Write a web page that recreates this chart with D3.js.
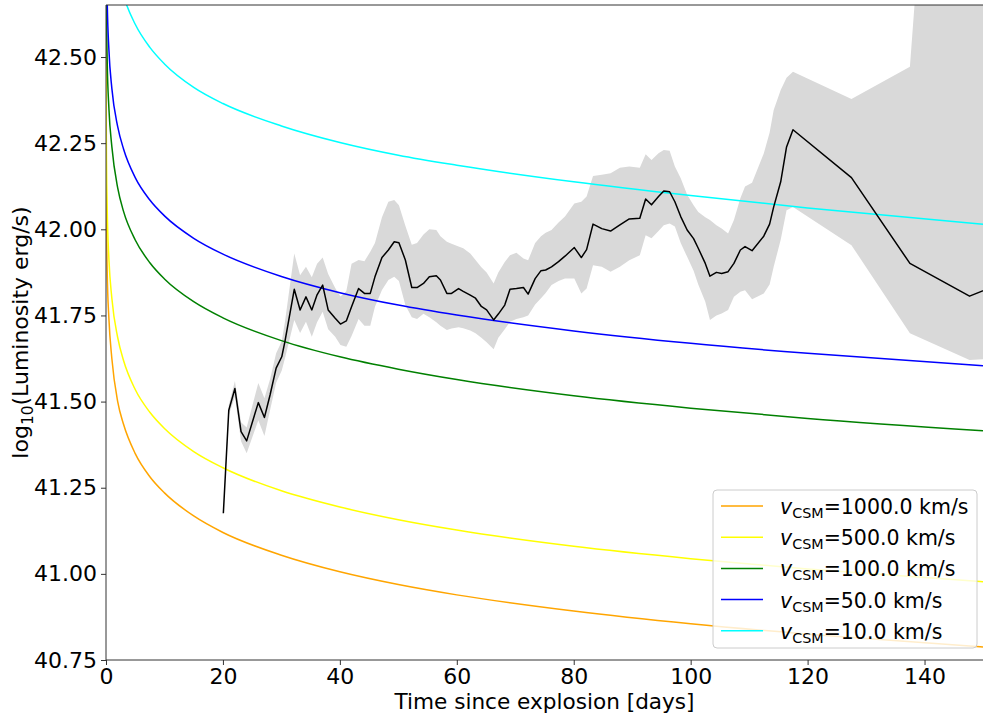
<!DOCTYPE html>
<html>
<head>
<meta charset="utf-8">
<script src="https://cdn.jsdelivr.net/npm/d3@7"></script>
<style>
  html, body { margin: 0; padding: 0; background: #fff; }
  svg { display: block; font-family: "DejaVu Sans", sans-serif; }
</style>
</head>
<body>
<svg id="chart" width="983" height="717"></svg>
<script>
// ---------- data ----------
const modelTime = [0.001, 0.01, 0.05, 0.1, 0.2, 0.5, 1, 2, 3, 5, 7.5, 10, 15, 20, 30, 40, 50, 60, 80, 100, 120, 150];
const lum1000 = [42.755, 42.375, 42.109, 41.995, 41.88, 41.74, 41.625, 41.50, 41.434, 41.349, 41.282, 41.235, 41.168, 41.12, 41.054, 41.006, 40.969, 40.939, 40.892, 40.855, 40.825, 40.788];
const lum500  = [42.934, 42.556, 42.291, 42.177, 42.064, 41.913, 41.80, 41.686, 41.619, 41.535, 41.469, 41.422, 41.355, 41.308, 41.241, 41.194, 41.157, 41.127, 41.08, 41.044, 41.014, 40.977];
const lum100  = [43.356, 42.981, 42.719, 42.606, 42.493, 42.35, 42.24, 42.12, 42.052, 41.969, 41.903, 41.856, 41.79, 41.743, 41.677, 41.63, 41.594, 41.564, 41.517, 41.481, 41.451, 41.415];
const lum50   = [43.52, 43.149, 42.89, 42.779, 42.668, 42.52, 42.409, 42.298, 42.233, 42.15, 42.085, 42.039, 41.974, 41.928, 41.863, 41.816, 41.78, 41.751, 41.705, 41.669, 41.64, 41.604];
const lum10   = [44.03, 43.64, 43.37, 43.25, 43.14, 42.98, 42.86, 42.746, 42.678, 42.595, 42.528, 42.48, 42.412, 42.365, 42.30, 42.252, 42.215, 42.186, 42.138, 42.098, 42.062, 42.015];

const modelLabels = ["1000.0", "500.0", "100.0", "50.0", "10.0"];
const modelColors = ["#ffa500", "#ffff00", "#008000", "#0000ff", "#00ffff"];

const obsTime = [20.07, 21.0, 22.05, 23.1, 24.06, 26.05, 27.1, 28.06, 29.1, 30.06, 30.6, 32.2, 33.2, 34.2, 35.2, 36.1, 37.06, 38.0, 39.2, 40.1, 41.1, 42.0, 43.2, 44.2, 45.2, 46.0, 47.2, 48.3, 49.3, 50.1, 51.2, 52.3, 53.2, 54.3, 55.3, 56.5, 57.2, 58.3, 59.1, 60.3, 61.1, 62.3, 63.2, 64.2, 65.1, 66.3, 67.1, 68.2, 69.1, 70.2, 71.4, 72.2, 73.4, 74.4, 75.2, 76.2, 77.4, 78.5, 80.1, 81.3, 82.2, 83.3, 84.8, 86.3, 87.9, 89.5, 91.3, 92.3, 93.3, 94.5, 95.4, 96.4, 97.3, 98.3, 99.4, 100.5, 101.3, 102.5, 103.3, 104.4, 105.3, 106.4, 107.4, 108.5, 109.3, 110.5, 112.5, 113.5, 114.2, 115.4, 116.4, 117.5, 127.5, 137.5, 147.7, 152.0];
const obsLum = [41.176, 41.475, 41.538, 41.413, 41.386, 41.497, 41.454, 41.519, 41.597, 41.63, 41.674, 41.826, 41.766, 41.804, 41.766, 41.81, 41.838, 41.766, 41.742, 41.725, 41.734, 41.775, 41.828, 41.814, 41.814, 41.862, 41.918, 41.94, 41.964, 41.961, 41.911, 41.831, 41.831, 41.843, 41.862, 41.865, 41.853, 41.814, 41.814, 41.828, 41.82, 41.809, 41.80, 41.776, 41.766, 41.737, 41.754, 41.78, 41.826, 41.828, 41.831, 41.812, 41.857, 41.88, 41.882, 41.891, 41.906, 41.922, 41.947, 41.918, 41.941, 42.015, 42.002, 41.995, 42.013, 42.03, 42.032, 42.088, 42.071, 42.095, 42.111, 42.109, 42.08, 42.037, 41.998, 41.973, 41.945, 41.901, 41.864, 41.875, 41.872, 41.877, 41.901, 41.94, 41.95, 41.938, 41.98, 42.015, 42.065, 42.138, 42.239, 42.289, 42.15, 41.901, 41.806, 41.835];
const obsLow = [41.168, 41.46, 41.515, 41.385, 41.35, 41.446, 41.40, 41.475, 41.555, 41.59, 41.625, 41.737, 41.699, 41.732, 41.688, 41.73, 41.761, 41.71, 41.688, 41.664, 41.659, 41.69, 41.74, 41.72, 41.72, 41.775, 41.824, 41.853, 41.862, 41.85, 41.78, 41.745, 41.74, 41.755, 41.745, 41.73, 41.72, 41.708, 41.712, 41.716, 41.713, 41.706, 41.698, 41.685, 41.672, 41.652, 41.685, 41.71, 41.732, 41.74, 41.745, 41.75, 41.782, 41.80, 41.815, 41.838, 41.85, 41.857, 41.857, 41.814, 41.828, 41.896, 41.891, 41.877, 41.891, 41.91, 41.925, 41.983, 41.974, 41.995, 42.012, 42.017, 42.008, 41.96, 41.92, 41.88, 41.84, 41.79, 41.737, 41.75, 41.756, 41.766, 41.804, 41.819, 41.823, 41.797, 41.814, 41.84, 41.891, 41.97, 42.055, 42.065, 41.954, 41.698, 41.621, 41.625];
const obsHigh = [41.183, 41.49, 41.56, 41.44, 41.425, 41.554, 41.51, 41.565, 41.64, 41.675, 41.73, 41.93, 41.867, 41.891, 41.861, 41.90, 41.918, 41.87, 41.83, 41.805, 41.82, 41.90, 41.911, 41.907, 41.935, 41.96, 42.035, 42.08, 42.085, 42.07, 42.01, 41.955, 41.96, 41.985, 42.0, 41.998, 41.98, 41.964, 41.958, 41.95, 41.945, 41.93, 41.911, 41.89, 41.875, 41.843, 41.875, 41.905, 41.925, 41.932, 41.915, 41.91, 41.96, 41.98, 41.99, 41.998, 42.02, 42.037, 42.075, 42.08, 42.095, 42.155, 42.158, 42.163, 42.179, 42.182, 42.179, 42.218, 42.201, 42.221, 42.23, 42.228, 42.182, 42.148, 42.10, 42.07, 42.05, 42.035, 42.027, 42.012, 42.002, 41.988, 42.027, 42.09, 42.124, 42.135, 42.22, 42.28, 42.346, 42.404, 42.44, 42.457, 42.378, 42.472, 44.8, 44.8];

const xTicks = [0, 20, 40, 60, 80, 100, 120, 140];
const yTicks = [40.75, 41.00, 41.25, 41.50, 41.75, 42.00, 42.25, 42.50];

// ---------- layout ----------
const svg = d3.select("#chart");
const L = 106, R = 983, T = 5, B = 660;
const x = d3.scaleLinear().domain([0, 150]).range([L, R]);
const y = d3.scaleLinear().domain([40.75, 42.651]).range([B, T]);

svg.append("defs").append("clipPath").attr("id", "plotclip")
  .append("rect").attr("x", L).attr("y", T).attr("width", R - L + 5).attr("height", B - T);

const plot = svg.append("g").attr("clip-path", "url(#plotclip)");

// band
const obs = obsTime.map((t, i) => ({t, m: obsLum[i], lo: obsLow[i], hi: obsHigh[i]}));
plot.append("path")
  .datum(obs)
  .attr("fill", "#d9d9d9")
  .attr("stroke", "none")
  .attr("d", d3.area().x(d => x(d.t)).y0(d => y(d.lo)).y1(d => y(d.hi)));

// models
const modelSeries = [lum1000, lum500, lum100, lum50, lum10];
const modelLine = d3.line().x(d => x(d[0])).y(d => y(d[1])).curve(d3.curveMonotoneX);
modelSeries.forEach((vals, k) => {
  plot.append("path")
    .datum(modelTime.map((t, i) => [t, vals[i]]))
    .attr("fill", "none")
    .attr("stroke", modelColors[k])
    .attr("stroke-width", 1.5)
    .attr("d", modelLine);
});

// observed line
plot.append("path")
  .datum(obs)
  .attr("fill", "none")
  .attr("stroke", "#000")
  .attr("stroke-width", 1.5)
  .attr("stroke-linejoin", "round")
  .attr("d", d3.line().x(d => x(d.t)).y(d => y(d.m)));

// ---------- axes ----------
const axisColor = "#333";
const fs = 22;

const xAxis = svg.append("g").attr("transform", `translate(0,${B})`)
  .call(d3.axisBottom(x).tickValues(xTicks).tickFormat(d3.format("d")).tickSizeOuter(0).tickSize(5).tickPadding(3));
const yAxis = svg.append("g").attr("transform", `translate(${L},0)`)
  .call(d3.axisLeft(y).tickValues(yTicks).tickFormat(d3.format(".2f")).tickSizeOuter(0).tickSize(5).tickPadding(4));
[xAxis, yAxis].forEach(a => {
  a.select(".domain").remove();
  a.selectAll(".tick line").attr("stroke", axisColor).attr("stroke-width", 1);
  a.selectAll(".tick text").attr("fill", "#000").style("font-size", fs + "px").style("font-family", "DejaVu Sans");
});

// spines
svg.append("line").attr("x1", L).attr("x2", L).attr("y1", T).attr("y2", B).attr("stroke", axisColor).attr("stroke-width", 1);
svg.append("line").attr("x1", L).attr("x2", R + 2).attr("y1", B).attr("y2", B).attr("stroke", axisColor).attr("stroke-width", 1);
svg.append("line").attr("x1", L).attr("x2", R + 2).attr("y1", T).attr("y2", T).attr("stroke", axisColor).attr("stroke-width", 1);

// axis labels
svg.append("text")
  .attr("x", (L + R) / 2).attr("y", 709)
  .attr("text-anchor", "middle")
  .style("font-size", "21.6px").attr("fill", "#000")
  .text("Time since explosion [days]");

const ylab = svg.append("text")
  .attr("transform", `translate(28,${(T + B) / 2}) rotate(-90)`)
  .attr("text-anchor", "middle")
  .style("font-size", fs + "px").attr("fill", "#000");
ylab.append("tspan").text("log");
ylab.append("tspan").attr("dy", 5).style("font-size", (fs * 0.7) + "px").text("10");
ylab.append("tspan").attr("dy", -5).text("(Luminosity erg/s)");

// ---------- legend ----------
const lg = svg.append("g");
lg.append("rect")
  .attr("x", 713).attr("y", 490).attr("width", 264).attr("height", 158)
  .attr("rx", 4).attr("ry", 4)
  .attr("fill", "#fff").attr("fill-opacity", 0.8)
  .attr("stroke", "#cccccc").attr("stroke-width", 1);
const lfs = 20.5;
modelLabels.forEach((lab, k) => {
  const yy = 506 + k * 31.2;
  lg.append("line").attr("x1", 721).attr("x2", 763).attr("y1", yy).attr("y2", yy)
    .attr("stroke", modelColors[k]).attr("stroke-width", 1.5);
  const t = lg.append("text").attr("x", 780).attr("y", yy + 8)
    .style("font-size", lfs + "px").attr("fill", "#000");
  t.append("tspan").style("font-style", "italic").text("v");
  t.append("tspan").attr("dy", 4).style("font-size", (lfs * 0.7) + "px").text("CSM");
  t.append("tspan").attr("dy", -4).text("=" + lab + " km/s");
});
</script>
</body>
</html>
